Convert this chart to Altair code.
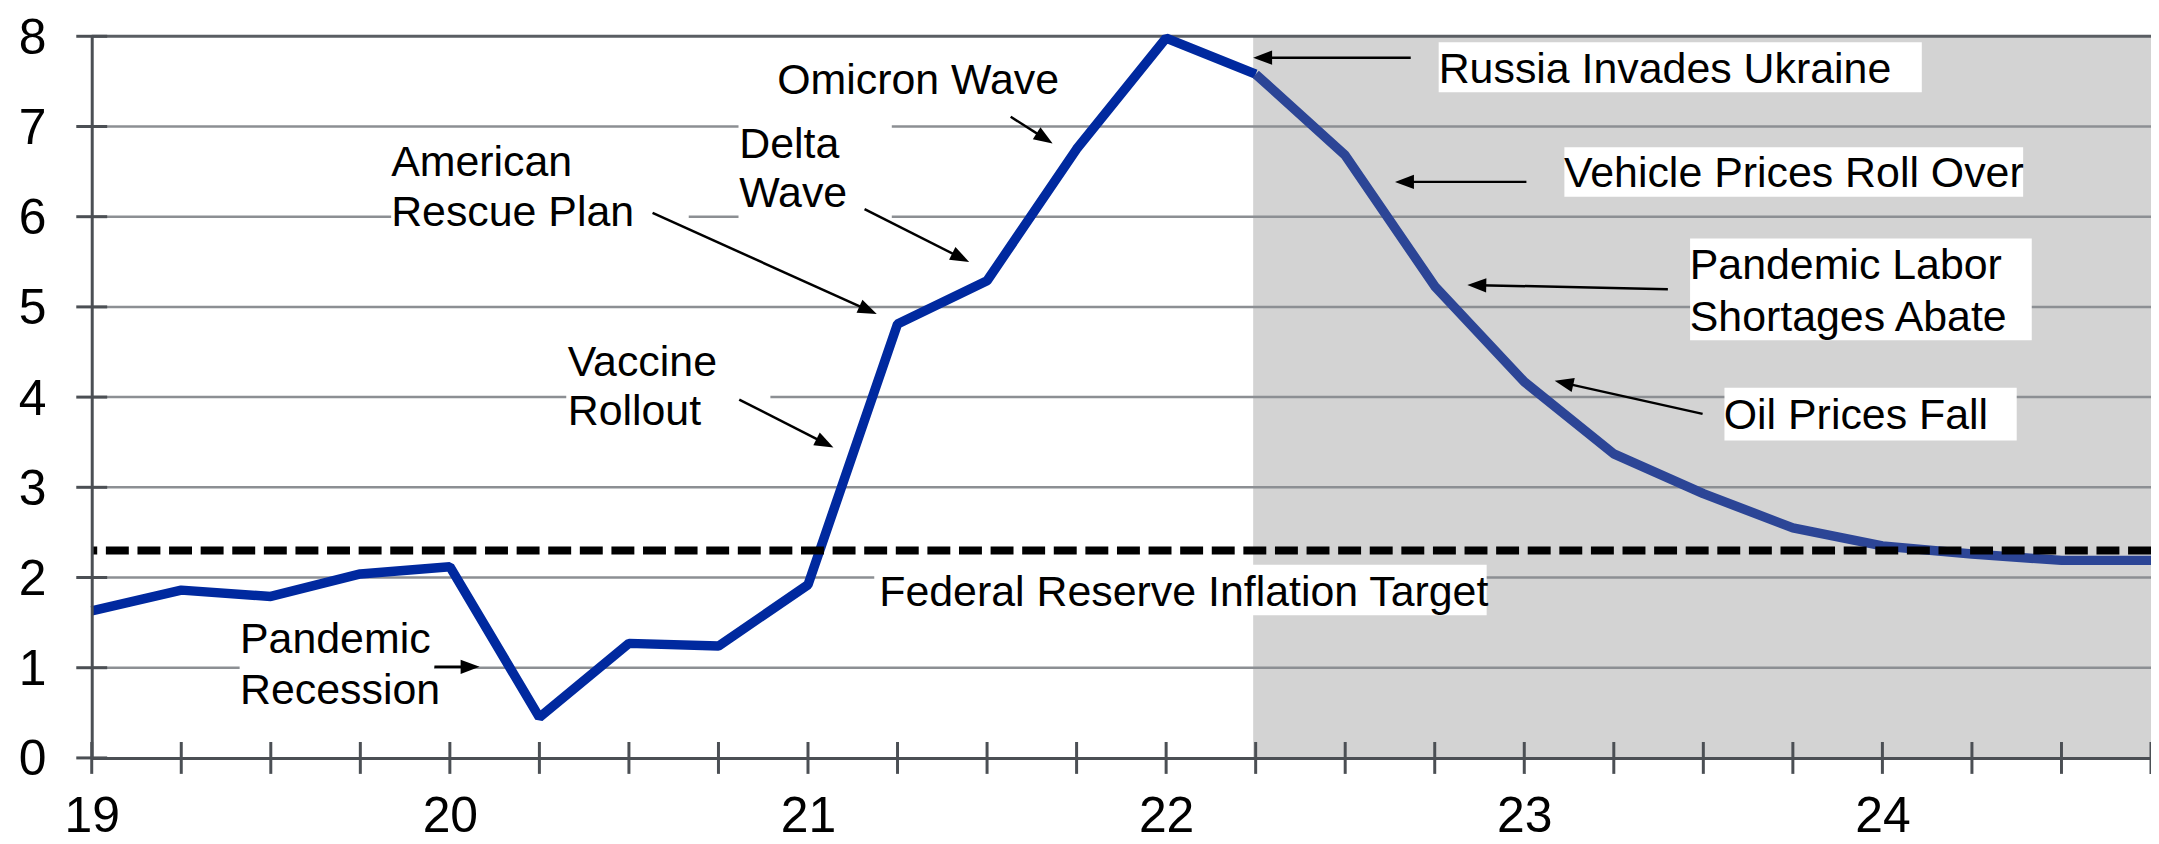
import math
import altair as alt
import pandas as pd

# ---------------- data ----------------
quarters = [19.0, 19.25, 19.5, 19.75, 20.0, 20.25, 20.5, 20.75, 21.0, 21.25, 21.5, 21.75,
            22.0, 22.25, 22.5, 22.75, 23.0, 23.25, 23.5, 23.75, 24.0, 24.25, 24.5, 24.75]
inflation = [1.63, 1.86, 1.79, 2.04, 2.12, 0.45, 1.27, 1.24, 1.92, 4.81, 5.29, 6.75,
             7.98, 7.58, 6.68, 5.23, 4.17, 3.37, 2.93, 2.55, 2.35, 2.26, 2.19, 2.19]
forecast_start = 22.25
year_labels = [19, 20, 21, 22, 23, 24]
y_ticks = [0, 1, 2, 3, 4, 5, 6, 7, 8]
grid_levels = [1, 2, 3, 4, 5, 6, 7]
fed_target = 2.3
shade_start = 22.243
shade_end = 24.75

text_labels = ["American", "Rescue Plan", "Vaccine", "Rollout", "Delta", "Wave",
               "Omicron Wave", "Pandemic", "Recession", "Federal Reserve Inflation Target",
               "Russia Invades Ukraine", "Vehicle Prices Roll Over", "Pandemic Labor",
               "Shortages Abate", "Oil Prices Fall"]
text_x = [19.836, 19.836, 20.329, 20.329, 20.808, 20.808, 20.914, 19.414, 19.414, 21.199,
          22.761, 23.111, 23.462, 23.462, 23.557]
text_y = [6.456, 5.901, 4.239, 3.696, 6.652, 6.102, 7.361, 1.163, 0.603, 1.685,
          7.480, 6.327, 5.309, 4.730, 3.648]

box_x1 = [19.836, 20.325, 20.806, 19.413, 21.185, 22.761, 23.112, 23.463, 23.559]
box_x2 = [20.667, 20.895, 21.234, 19.956, 22.895, 24.110, 24.393, 24.417, 24.375]
box_y1 = [5.686, 3.614, 5.975, 0.482, 1.581, 7.379, 6.220, 4.629, 3.519]
box_y2 = [6.886, 4.657, 7.107, 1.613, 2.141, 7.935, 6.770, 5.759, 4.103]

arrow_x1 = [20.566, 20.808, 21.158, 21.566, 19.957, 22.683, 23.006, 23.401, 23.498]
arrow_y1 = [6.043, 3.973, 6.085, 7.108, 1.010, 7.763, 6.386, 5.197, 3.814]
arrow_x2 = [21.192, 21.071, 21.450, 21.683, 20.083, 22.243, 22.639, 22.841, 23.085]
arrow_y2 = [4.920, 3.442, 5.499, 6.811, 1.010, 7.763, 6.386, 5.244, 4.180]

# ---------------- styling ----------------
W, H = 2066, 724
X0, X1 = 19.0, 24.75
FONT = "Liberation Sans"
AX = "#4B4F54"
GRID = "#8C8F93"
BLUE = "#00299F"
BLUE2 = "#2C4596"
HEAD = 19.0

xs = alt.Scale(domain=[X0, X1], nice=False, zero=False)
ys = alt.Scale(domain=[0, 8], nice=False, zero=False)

x_axis = alt.Axis(values=year_labels, format="d", ticks=False, grid=False,
                  domain=True, domainColor=AX, domainWidth=3, labelFont=FONT,
                  labelFontSize=50, labelColor="black", labelPadding=34,
                  labelFlush=False, labelOverlap=False, title=None, zindex=1)
y_axis = alt.Axis(values=y_ticks, format="d", ticks=False, grid=False,
                  domain=True, domainColor=AX, domainWidth=3, labelFont=FONT,
                  labelFontSize=50, labelColor="black", labelPadding=46, labelOffset=2,
                  labelFlush=False, labelOverlap=False, title=None, zindex=1)


def X(f):
    return alt.X(f, type="quantitative", scale=xs, axis=x_axis)


def Y(f):
    return alt.Y(f, type="quantitative", scale=ys, axis=y_axis)


# ---------------- tables ----------------
line_df = pd.DataFrame({"q": quarters, "v": inflation})
line_a = line_df[line_df.q <= forecast_start]
line_b = line_df[line_df.q >= forecast_start]

shade_df = pd.DataFrame({"x1": [shade_start], "x2": [shade_end], "y1": [0], "y2": [8]})
grid_df = pd.DataFrame({"v": grid_levels})
top_df = pd.DataFrame({"v": [8]})
tickx_df = pd.DataFrame({"q": quarters, "z": [0] * len(quarters)})
ticky_df = pd.DataFrame({"v": y_ticks, "x0": [X0] * len(y_ticks)})
target_df = pd.DataFrame({"v": [fed_target]})
text_df = pd.DataFrame({"x": text_x, "y": text_y, "t": text_labels})
box_df = pd.DataFrame({"x1": box_x1, "x2": box_x2, "y1": box_y1, "y2": box_y2})

ppx = W / (X1 - X0)
ppy = H / 8.0
rows = []
for sx, sy, tx, ty in zip(arrow_x1, arrow_y1, arrow_x2, arrow_y2):
    dx = (tx - sx) * ppx
    dy = -(ty - sy) * ppy
    L = math.hypot(dx, dy)
    ang = math.degrees(math.atan2(dy, dx)) % 360
    back = HEAD * 0.6
    ex = tx - (dx / L) * back / ppx
    ey = ty + (dy / L) * back / ppy
    rows.append({"sx": sx, "sy": sy, "ex": ex, "ey": ey, "tx": tx, "ty": ty, "ang": ang})
arrow_df = pd.DataFrame(rows)

# ---------------- layers ----------------
shade = alt.Chart(shade_df).mark_rect(color="#D3D3D3").encode(
    x=X("x1"), x2="x2", y=Y("y1"), y2="y2")

grid = alt.Chart(grid_df).mark_rule(color=GRID, strokeWidth=2.5).encode(y=Y("v"))

boxes = alt.Chart(box_df).mark_rect(color="white").encode(
    x=X("x1"), x2="x2", y=Y("y1"), y2="y2")

top_line = alt.Chart(top_df).mark_rule(color="#5A5E63", strokeWidth=3).encode(y=Y("v"))

ticks_x = alt.Chart(tickx_df).mark_tick(orient="vertical", size=32, thickness=3,
                                        color=AX, opacity=1).encode(x=X("q"), y=Y("z"))
ticks_y = alt.Chart(ticky_df).mark_tick(orient="horizontal", size=31, thickness=3,
                                        color=AX, opacity=1).encode(x=X("x0"), y=Y("v"))

la = alt.Chart(line_a).mark_line(color=BLUE, strokeWidth=9.5, strokeJoin="bevel").encode(
    x=X("q"), y=Y("v"))
lb = alt.Chart(line_b).mark_line(color=BLUE2, strokeWidth=9.5, strokeJoin="bevel").encode(
    x=X("q"), y=Y("v"))

dashed = alt.Chart(target_df).mark_rule(color="black", strokeWidth=8,
                                        strokeDash=[23, 8.7]).encode(y=Y("v"))

shafts = alt.Chart(arrow_df).mark_rule(color="black", strokeWidth=2.5).encode(
    x=X("sx"), y=Y("sy"), x2="ex", y2="ey")
heads = alt.Chart(arrow_df).mark_point(
    shape="M0,0L-2,-0.75L-2,0.75Z", size=HEAD * HEAD, filled=True, color="black",
    opacity=1, strokeWidth=0).encode(
    x=X("tx"), y=Y("ty"), angle=alt.Angle("ang:Q", scale=None))

texts = alt.Chart(text_df).mark_text(align="left", baseline="alphabetic", font=FONT,
                                     fontSize=43, color="black").encode(
    x=X("x"), y=Y("y"), text="t:N")

chart = alt.layer(shade, grid, boxes, top_line, ticks_x, ticks_y, la, lb, dashed,
                  shafts, heads, texts).properties(
    width=W, height=H,
    autosize=alt.AutoSizeParams(type="none"),
    padding={"left": 84, "top": 27, "right": 0, "bottom": 92},
    background="white",
).configure_view(stroke=None)

chart.save("out.html", embed_options={"renderer": "svg", "actions": False})
